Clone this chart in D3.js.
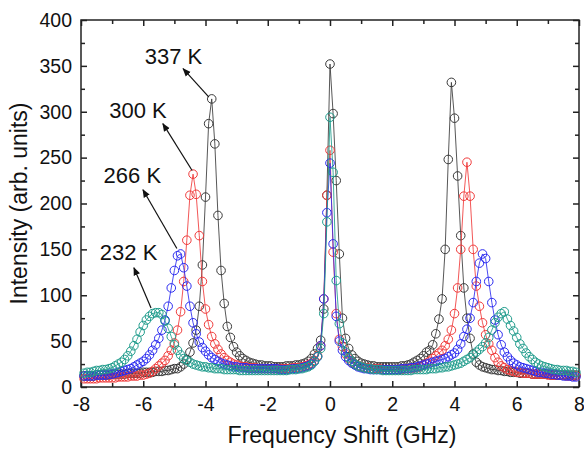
<!DOCTYPE html>
<html>
<head>
<meta charset="utf-8">
<script src="https://cdn.jsdelivr.net/npm/d3@7"></script>
<style>
  body { margin: 0; background: #fff; }
  svg { display: block; font-family: "Liberation Sans", Arial, sans-serif; }
</style>
</head>
<body>
<script>
// frequency grid (GHz), shared by all four spectra
var freq = [
  -7.9,-7.8,-7.7,-7.6,-7.5,-7.4,-7.3,-7.2,-7.1,-7.0,
  -6.9,-6.8,-6.7,-6.6,-6.5,-6.4,-6.3,-6.2,-6.1,-6.0,
  -5.9,-5.8,-5.7,-5.6,-5.5,-5.4,-5.3,-5.2,-5.1,-5.0,
  -4.9,-4.8,-4.7,-4.6,-4.5,-4.4,-4.3,-4.2,-4.1,-4.0,
  -3.9,-3.8,-3.7,-3.6,-3.5,-3.4,-3.3,-3.2,-3.1,-3.0,
  -2.9,-2.8,-2.7,-2.6,-2.5,-2.4,-2.3,-2.2,-2.1,-2.0,
  -1.9,-1.8,-1.7,-1.6,-1.5,-1.4,-1.3,-1.2,-1.1,-1.0,
  -0.9,-0.8,-0.7,-0.6,-0.5,-0.4,-0.3,-0.2,-0.1,0.0,
  0.1,0.2,0.3,0.4,0.5,0.6,0.7,0.8,0.9,1.0,
  1.1,1.2,1.3,1.4,1.5,1.6,1.7,1.8,1.9,2.0,
  2.1,2.2,2.3,2.4,2.5,2.6,2.7,2.8,2.9,3.0,
  3.1,3.2,3.3,3.4,3.5,3.6,3.7,3.8,3.9,4.0,
  4.1,4.2,4.3,4.4,4.5,4.6,4.7,4.8,4.9,5.0,
  5.1,5.2,5.3,5.4,5.5,5.6,5.7,5.8,5.9,6.0,
  6.1,6.2,6.3,6.4,6.5,6.6,6.7,6.8,6.9,7.0,
  7.1,7.2,7.3,7.4,7.5,7.6,7.7,7.8,7.9
];

var int337 = [
  12,12,12,12,13,13,13,13,13,14,
  14,14,14,14,15,15,15,15,15,16,
  16,16,16,17,17,17,18,18,19,20,
  20,22,25,30,38,48,62,88,133,207,
  287,314,265,187,127,91,66,54,44,38,
  34,31,29,27,26,25,24,24,23,23,
  23,22,22,22,22,23,23,23,24,24,
  25,26,28,31,36,42,51,85,209,352,
  298,225,145,75,53,42,35,31,28,26,
  25,24,23,23,22,22,22,22,22,22,
  22,22,23,23,24,25,27,29,31,34,
  38,40,46,58,74,96,150,248,332,293,
  230,165,108,75,53,36,27,24,22,21,
  20,19,19,18,18,17,17,16,16,16,
  15,15,15,15,14,14,14,14,14,14,
  13,13,13,13,13,13,13,13,13
];

var int300 = [
  9,9,9,9,9,10,10,10,10,10,
  10,11,11,11,11,12,12,12,13,13,
  14,15,17,20,23,26,29,34,40,48,
  62,82,115,160,209,232,210,165,115,85,
  68,55,47,41,36,32,29,27,25,24,
  23,22,22,21,21,21,20,20,20,20,
  20,20,20,20,20,20,20,21,21,21,
  22,23,24,26,29,34,45,96,209,258,
  147,80,52,44,36,31,27,25,23,22,
  21,21,20,20,20,20,19,19,19,19,
  19,19,19,20,20,20,21,21,22,24,
  26,28,31,34,37,40,45,52,62,80,
  108,150,208,245,208,150,110,88,70,57,
  47,40,32,27,23,21,19,18,17,16,
  16,15,15,15,14,14,14,14,14,13,
  13,13,13,13,13,12,12,12,12
];

var int266 = [
  12,12,12,12,13,13,13,13,14,14,
  15,16,17,18,19,20,22,24,26,28,
  31,35,40,46,53,62,73,88,108,127,
  143,145,130,110,88,70,58,49,43,39,
  35,32,30,28,26,25,24,23,22,22,
  21,21,21,20,20,20,20,20,20,20,
  20,20,20,19,19,19,19,20,20,20,
  21,22,23,25,28,33,45,96,190,244,
  156,77,50,40,33,29,26,24,22,21,
  20,20,19,19,19,19,19,19,19,19,
  19,19,20,20,20,21,21,22,23,24,
  25,26,27,28,29,30,31,33,35,37,
  41,47,55,63,75,92,115,135,145,140,
  115,92,73,57,46,38,33,29,26,24,
  22,21,20,19,18,17,16,16,15,15,
  14,14,13,13,12,12,12,11,11
];

var int232 = [
  15,16,16,17,18,18,19,19,20,21,
  23,25,27,30,34,39,45,52,60,67,
  73,77,80,81,81,79,72,64,55,46,
  40,35,31,29,27,25,24,23,22,22,
  21,21,20,20,20,19,19,19,19,19,
  18,18,18,18,18,18,18,18,18,18,
  18,18,18,18,18,18,19,19,19,20,
  20,21,22,24,28,33,42,80,180,294,
  234,116,69,48,38,32,28,25,23,22,
  21,20,20,19,19,19,18,18,18,18,
  18,18,18,18,18,18,19,19,19,19,
  19,20,20,20,21,21,22,22,23,24,
  25,26,28,30,32,35,38,41,44,48,
  54,62,70,76,80,82,74,67,61,54,
  47,42,37,33,30,27,25,23,22,21,
  20,19,19,18,18,18,17,17,16
];

var seriesNames = ["337 K", "300 K", "266 K", "232 K"];
var seriesColors = ["#3a3a3a", "#f03a3a", "#2b2bf0", "#1f9c8c"];
var seriesValues = [int337, int300, int266, int232];

var xLabelTicks = [-8, -6, -4, -2, 0, 2, 4, 6, 8];
var xMinorTicks = [-7, -5, -3, -1, 1, 3, 5, 7];
var yLabelTicks = [0, 50, 100, 150, 200, 250, 300, 350, 400];
var yMinorTicks = [25, 75, 125, 175, 225, 275, 325, 375];

// label position and arrow (tail -> head) in data units
var labelX = [-5.03, -6.17, -6.35, -6.47];
var labelY = [352, 293, 222, 138];
var arrowFromX = [-3.89, -4.43, -4.92, -5.75];
var arrowFromY = [316, 236, 151, 86];
var arrowToX = [-4.72, -5.37, -6.01, -6.30];
var arrowToY = [347, 287, 215, 130];

var W = 584, H = 450;
var plotLeft = 81, plotRight = 579, plotTop = 20, plotBottom = 387;

var svg = d3.select("body").append("svg")
    .attr("width", W)
    .attr("height", H);

var x = d3.scaleLinear().domain([-8, 8]).range([plotLeft, plotRight]);
var y = d3.scaleLinear().domain([0, 400]).range([plotBottom, plotTop]);

var axisColor = "#222";
var plainNum = function (d) { return String(d); };

// axes, ticks pointing inward
svg.append("g")
    .attr("transform", "translate(0," + plotBottom + ")")
    .call(d3.axisBottom(x).tickValues(xLabelTicks).tickSize(-6).tickSizeOuter(0).tickPadding(10).tickFormat(plainNum));
svg.append("g")
    .attr("transform", "translate(0," + plotBottom + ")")
    .call(d3.axisBottom(x).tickValues(xMinorTicks).tickSize(-4).tickSizeOuter(0).tickFormat(""));
svg.append("g")
    .attr("transform", "translate(0," + plotTop + ")")
    .call(d3.axisTop(x).tickValues(xLabelTicks).tickSize(-6).tickSizeOuter(0).tickFormat(""));
svg.append("g")
    .attr("transform", "translate(0," + plotTop + ")")
    .call(d3.axisTop(x).tickValues(xMinorTicks).tickSize(-4).tickSizeOuter(0).tickFormat(""));

svg.append("g")
    .attr("transform", "translate(" + plotLeft + ",0)")
    .call(d3.axisLeft(y).tickValues(yLabelTicks).tickSize(-6).tickSizeOuter(0).tickPadding(9).tickFormat(plainNum));
svg.append("g")
    .attr("transform", "translate(" + plotLeft + ",0)")
    .call(d3.axisLeft(y).tickValues(yMinorTicks).tickSize(-4).tickSizeOuter(0).tickFormat(""));
svg.append("g")
    .attr("transform", "translate(" + plotRight + ",0)")
    .call(d3.axisRight(y).tickValues(yLabelTicks).tickSize(-6).tickSizeOuter(0).tickFormat(""));
svg.append("g")
    .attr("transform", "translate(" + plotRight + ",0)")
    .call(d3.axisRight(y).tickValues(yMinorTicks).tickSize(-4).tickSizeOuter(0).tickFormat(""));

svg.selectAll(".domain").remove();
svg.selectAll(".tick line").style("stroke", axisColor).style("stroke-width", 1.5);
svg.selectAll(".tick text")
    .style("font-family", "Liberation Sans, Arial, sans-serif")
    .style("font-size", "19.5px")
    .style("fill", "#111");

svg.append("rect")
    .attr("x", plotLeft)
    .attr("y", plotTop)
    .attr("width", plotRight - plotLeft)
    .attr("height", plotBottom - plotTop)
    .style("fill", "none")
    .style("stroke", axisColor)
    .style("stroke-width", 1.5);

// spectra
var line = d3.line()
    .x(function (d) { return x(d[0]); })
    .y(function (d) { return y(d[1]); });

for (var i = 0; i < seriesValues.length; i++) {
    var pts = freq.map(function (f, j) { return [f, seriesValues[i][j]]; });
    var g = svg.append("g").attr("class", "series");
    g.append("path")
        .datum(pts)
        .attr("d", line)
        .style("fill", "none")
        .style("stroke", seriesColors[i])
        .style("stroke-opacity", 0.85)
        .style("stroke-width", 1);
    g.selectAll("circle")
        .data(pts)
        .enter()
        .append("circle")
        .attr("cx", function (d) { return x(d[0]); })
        .attr("cy", function (d) { return y(d[1]); })
        .attr("r", 4.3)
        .style("fill", "none")
        .style("stroke", seriesColors[i])
        .style("stroke-width", 1);
}

// arrows + temperature labels
svg.append("defs").append("marker")
    .attr("id", "head")
    .attr("viewBox", "0 0 10 10")
    .attr("refX", 9)
    .attr("refY", 5)
    .attr("markerWidth", 7)
    .attr("markerHeight", 7)
    .attr("orient", "auto")
    .append("path")
    .attr("d", "M0,1 L10,5 L0,9 Z")
    .style("fill", "#111");

for (i = 0; i < seriesNames.length; i++) {
    svg.append("line")
        .attr("x1", x(arrowFromX[i]))
        .attr("y1", y(arrowFromY[i]))
        .attr("x2", x(arrowToX[i]))
        .attr("y2", y(arrowToY[i]))
        .style("stroke", "#111")
        .style("stroke-width", 1.2)
        .attr("marker-end", "url(#head)");
    svg.append("text")
        .attr("x", x(labelX[i]))
        .attr("y", y(labelY[i]))
        .attr("text-anchor", "middle")
        .style("font-size", "22px")
        .style("fill", "#111")
        .text(seriesNames[i]);
}

// axis titles
svg.append("text")
    .attr("x", 342)
    .attr("y", 443)
    .attr("text-anchor", "middle")
    .style("font-size", "23px")
    .style("fill", "#111")
    .text("Frequency Shift (GHz)");

svg.append("text")
    .attr("transform", "translate(27," + ((plotTop + plotBottom) / 2) + ") rotate(-90)")
    .attr("text-anchor", "middle")
    .style("font-size", "23px")
    .style("fill", "#111")
    .text("Intensity (arb. units)");
</script>
</body>
</html>
